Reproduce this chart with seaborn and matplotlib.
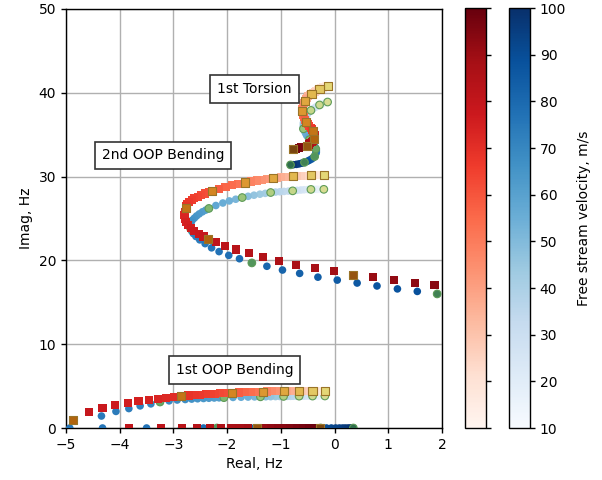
import numpy as np
import pandas as pd
import matplotlib
matplotlib.use("Agg")
import matplotlib.pyplot as plt
import seaborn as sns
from matplotlib.colors import Normalize, LinearSegmentedColormap
from matplotlib.cm import ScalarMappable

# ---------------- data ----------------
# Method A (circles, Blues) and method B (squares, Reds); v = free stream velocity, m/s
a1_v = [10, 12, 14, 16, 18, 20, 22, 24, 26, 28, 30, 32, 34, 36, 38, 40, 42, 44, 46, 48, 50, 52, 54, 56, 58, 60,
        61, 62, 63, 64, 65, 66, 67, 68, 69, 70, 71, 72, 73, 74, 75]
a1_re = [-0.18, -0.22, -0.27, -0.31, -0.36, -0.41, -0.46, -0.51, -0.56, -0.61, -0.66, -0.71, -0.77, -0.82, -0.88,
         -0.95, -1.02, -1.10, -1.19, -1.28, -1.38, -1.49, -1.61, -1.74, -1.89, -2.06,
         -2.15, -2.24, -2.34, -2.44, -2.55, -2.66, -2.78, -2.93, -3.08, -3.25, -3.42, -3.62, -3.83, -4.07, -4.34]
a1_im = [3.82, 3.82, 3.82, 3.82, 3.82, 3.81, 3.81, 3.81, 3.80, 3.80, 3.80, 3.79, 3.79, 3.78, 3.78, 3.77,
         3.76, 3.75, 3.74, 3.73, 3.72, 3.71, 3.69, 3.67, 3.65, 3.62,
         3.60, 3.58, 3.55, 3.52, 3.49, 3.45, 3.40, 3.34, 3.24, 3.10, 2.88, 2.64, 2.32, 1.98, 1.43]

b1_v = [10, 12, 14, 16, 18, 20, 22, 24, 26, 28, 30, 32, 34, 36, 38, 40, 42, 44, 46, 48, 50, 52, 54, 56, 58, 60,
        61, 62, 63, 64, 65, 66, 67, 68, 69, 70, 71, 72, 73, 74, 75, 76, 77, 78, 79, 80]
b1_re = [-0.18, -0.22, -0.27, -0.31, -0.36, -0.41, -0.46, -0.51, -0.56, -0.61, -0.66, -0.71, -0.77, -0.82, -0.88,
         -0.94, -1.01, -1.09, -1.17, -1.25, -1.34, -1.44, -1.55, -1.66, -1.78, -1.91,
         -1.98, -2.06, -2.14, -2.22, -2.31, -2.40, -2.50, -2.60, -2.72, -2.86, -2.99, -3.13, -3.29, -3.46, -3.65,
         -3.85, -4.08, -4.32, -4.58, -4.875]
b1_im = [4.46, 4.46, 4.46, 4.46, 4.46, 4.46, 4.46, 4.45, 4.45, 4.45, 4.45, 4.45, 4.45, 4.44, 4.44, 4.44,
         4.43, 4.41, 4.39, 4.36, 4.33, 4.31, 4.29, 4.26, 4.24, 4.21,
         4.19, 4.16, 4.13, 4.10, 4.07, 4.03, 3.99, 3.94, 3.88, 3.82, 3.72, 3.62, 3.50, 3.34, 3.18,
         2.98, 2.70, 2.35, 1.87, 0.95]

a2_v = [10, 12, 14, 16, 18, 20, 22, 24, 26, 28, 30, 32, 34, 36, 38, 40, 42, 44, 46, 48, 50, 52, 54, 56, 58, 60,
        61, 62, 63, 64, 65, 66, 67, 68, 69, 70, 71, 72, 73, 74, 75, 76, 77, 78, 79, 80,
        81, 82, 83, 84, 85, 86, 87, 88, 89, 90]
a2_re = [-0.20, -0.25, -0.30, -0.34, -0.39, -0.44, -0.50, -0.57, -0.63, -0.70, -0.78, -0.86, -0.94, -1.02, -1.10,
         -1.19, -1.29, -1.39, -1.50, -1.61, -1.72, -1.84, -1.96, -2.08, -2.21, -2.34,
         -2.40, -2.46, -2.52, -2.57, -2.61, -2.65, -2.67, -2.69, -2.69, -2.68,
         -2.66, -2.63, -2.58, -2.51, -2.41, -2.29, -2.15, -1.97, -1.77, -1.54,
         -1.26, -0.97, -0.65, -0.31, 0.05, 0.42, 0.79, 1.17, 1.54, 1.91]
a2_im = [28.48, 28.48, 28.48, 28.48, 28.48, 28.47, 28.45, 28.43, 28.40, 28.36, 28.30, 28.27, 28.23, 28.19, 28.15,
         28.10, 28.00, 27.90, 27.78, 27.65, 27.50, 27.30, 27.10, 26.85, 26.55, 26.20,
         26.00, 25.80, 25.55, 25.30, 25.05, 24.80, 24.55, 24.30, 24.05, 23.80,
         23.50, 23.20, 22.85, 22.45, 22.00, 21.50, 21.05, 20.60, 20.20, 19.70,
         19.30, 18.85, 18.45, 18.00, 17.65, 17.30, 16.95, 16.60, 16.30, 16.00]

b2_v = [10, 12, 14, 16, 18, 20, 22, 24, 26, 28, 30, 32, 34, 36, 38, 40, 42, 44, 46, 48, 50, 52, 54, 56, 58, 60,
        61, 62, 63, 64, 65, 66, 67, 68, 69, 70, 71, 72, 73, 74, 75, 76, 77, 78, 79, 80,
        81, 82, 83, 84, 85, 86, 87, 88, 89, 90, 91, 92, 93, 94]
b2_re = [-0.20, -0.25, -0.30, -0.34, -0.39, -0.44, -0.50, -0.56, -0.63, -0.70, -0.77, -0.84, -0.92, -0.99, -1.07,
         -1.15, -1.25, -1.35, -1.45, -1.56, -1.67, -1.79, -1.91, -2.03, -2.15, -2.28,
         -2.34, -2.41, -2.48, -2.55, -2.61, -2.66, -2.71, -2.74, -2.76, -2.77,
         -2.79, -2.80, -2.79, -2.77, -2.73, -2.68, -2.61, -2.52, -2.44, -2.36,
         -2.21, -2.04, -1.83, -1.60, -1.33, -1.04, -0.72, -0.37, -0.01, 0.35, 0.72, 1.10, 1.49, 1.86]
b2_im = [30.15, 30.15, 30.15, 30.15, 30.15, 30.15, 30.12, 30.10, 30.08, 30.05, 30.03, 30.00, 29.96, 29.92, 29.86,
         29.80, 29.72, 29.63, 29.53, 29.42, 29.30, 29.14, 28.96, 28.76, 28.54, 28.30,
         28.15, 27.98, 27.80, 27.60, 27.40, 27.18, 26.95, 26.70, 26.45, 26.20,
         25.80, 25.40, 25.00, 24.60, 24.25, 23.90, 23.50, 23.15, 22.85, 22.60,
         22.20, 21.70, 21.30, 20.85, 20.40, 19.95, 19.50, 19.10, 18.70, 18.30, 18.00, 17.65, 17.35, 17.06]

a3_v = [10, 12, 14, 16, 18, 20, 22, 24, 26, 28, 30, 32, 34, 36, 38, 40, 42, 44, 46, 48, 50, 52, 54, 56, 58,
        60, 62, 64, 66, 68, 70, 72, 74, 76, 78, 80, 82, 84, 86, 88, 90, 92, 94, 96, 98, 100]
a3_re = [-0.13, -0.16, -0.19, -0.22, -0.25, -0.28, -0.31, -0.34, -0.37, -0.41, -0.44, -0.47, -0.50, -0.52, -0.54,
         -0.56, -0.57, -0.58, -0.58, -0.58, -0.58, -0.56, -0.54, -0.52, -0.49, -0.47, -0.44, -0.41, -0.38, -0.36,
         -0.35, -0.34, -0.34, -0.35, -0.36, -0.37, -0.40, -0.43, -0.47, -0.51, -0.56, -0.61, -0.66, -0.71, -0.77,
         -0.82]
a3_im = [38.90, 38.85, 38.78, 38.70, 38.63, 38.55, 38.45, 38.34, 38.22, 38.07, 37.90, 37.72, 37.52, 37.32, 37.11,
         36.90, 36.66, 36.42, 36.18, 35.94, 35.70, 35.44, 35.18, 34.92, 34.66, 34.40, 34.16, 33.93, 33.70, 33.50,
         33.30, 33.10, 32.92, 32.74, 32.57, 32.40, 32.24, 32.09, 31.95, 31.82, 31.70, 31.60, 31.52, 31.46, 31.42,
         31.40]

b3_v = [10, 12, 14, 16, 18, 20, 22, 24, 26, 28, 30, 32, 34, 36, 38, 40, 42, 44, 46, 48, 50, 52, 54, 56, 58,
        60, 62, 64, 66, 68, 70, 72, 74, 76, 78, 80, 82, 84, 86, 88, 90, 92, 94, 96, 98, 100]
b3_re = [-0.13, -0.16, -0.19, -0.22, -0.25, -0.28, -0.31, -0.34, -0.37, -0.40, -0.43, -0.46, -0.49, -0.51, -0.53,
         -0.55, -0.57, -0.58, -0.59, -0.60, -0.60, -0.59, -0.58, -0.57, -0.55, -0.53, -0.50, -0.47, -0.44, -0.42,
         -0.40, -0.38, -0.37, -0.37, -0.37, -0.38, -0.40, -0.42, -0.45, -0.48, -0.52, -0.57, -0.62, -0.67, -0.72,
         -0.77]
b3_im = [40.85, 40.80, 40.72, 40.63, 40.55, 40.45, 40.35, 40.25, 40.13, 40.02, 39.90, 39.75, 39.58, 39.40, 39.20,
         39.00, 38.78, 38.55, 38.32, 38.08, 37.85, 37.58, 37.32, 37.06, 36.80, 36.55, 36.30, 36.07, 35.84, 35.62,
         35.40, 35.20, 35.00, 34.82, 34.63, 34.45, 34.28, 34.12, 33.97, 33.83, 33.70, 33.58, 33.48, 33.40, 33.34,
         33.30]

# real-axis (overdamped) roots
a4_v = [76, 76, 77, 78, 79, 80, 81, 82, 83, 84, 85, 86, 87, 88, 89, 90, 91, 92, 93, 94, 95, 96, 97, 98, 99, 100]
a4_re = [-4.93, -4.32, -3.50, -2.85, -2.44, -2.19, -1.88, -1.73, -1.50, -1.28, -1.06, -0.86, -0.68, -0.52, -0.38,
         -0.26, -0.15, -0.06, 0.02, 0.09, 0.15, 0.20, 0.25, 0.29, 0.32, 0.35]
a4_im = [0.0, 0.0, 0.0, 0.0, 0.0, 0.0, 0.0, 0.0, 0.0, 0.0, 0.0, 0.0, 0.0, 0.0, 0.0, 0.0, 0.0, 0.0, 0.0, 0.0, 0.0,
         0.0, 0.0, 0.0, 0.0, 0.0]

b4_v = [81, 82, 83, 84, 85, 86, 87, 88, 89, 90, 91, 92, 93, 94, 95, 96, 97, 98, 99, 100]
b4_re = [-3.83, -3.23, -2.84, -2.56, -2.32, -2.11, -1.93, -1.77, -1.61, -1.45, -1.31, -1.18, -1.06, -0.94, -0.82,
         -0.70, -0.59, -0.48, -0.38, -0.27]
b4_im = [0.0, 0.0, 0.0, 0.0, 0.0, 0.0, 0.0, 0.0, 0.0, 0.0, 0.0, 0.0, 0.0, 0.0, 0.0, 0.0, 0.0, 0.0, 0.0, 0.0]

mode_labels = ["1st OOP Bending", "2nd OOP Bending", "1st Torsion"]
label_x = [-1.86, -3.19, -1.49]
label_y = [6.92, 32.52, 40.5]

v_ticks = [10, 20, 30, 40, 50, 60, 70, 80, 90, 100]
x_ticks = [-5, -4, -3, -2, -1, 0, 1, 2]
y_ticks = [0, 10, 20, 30, 40, 50]
highlight_step = 10

# ---------------- build tables ----------------
def mode_table(v, re, im):
    return pd.DataFrame({"v": v, "re": re, "im": im})

A = pd.concat([mode_table(a4_v, a4_re, a4_im), mode_table(a1_v, a1_re, a1_im),
               mode_table(a2_v, a2_re, a2_im), mode_table(a3_v, a3_re, a3_im)], ignore_index=True)
B = pd.concat([mode_table(b4_v, b4_re, b4_im), mode_table(b1_v, b1_re, b1_im),
               mode_table(b2_v, b2_re, b2_im), mode_table(b3_v, b3_re, b3_im)], ignore_index=True)
hA = A[A["v"] % highlight_step == 0]
hB = B[B["v"] % highlight_step == 0]

# ---------------- figure ----------------
plt.rcParams["font.family"] = ["DejaVu Sans"]
plt.rcParams["font.size"] = 10

W, H = 602, 480
fig = plt.figure(figsize=(W / 100, H / 100), dpi=100)
ax = fig.add_axes([66 / W, 52 / H, 376 / W, 419 / H])
cax_r = fig.add_axes([465 / W, 52 / H, 21 / W, 420 / H])
cax_b = fig.add_axes([509 / W, 52 / H, 21 / W, 420 / H])

norm = Normalize(10, 100)
hl_circ = LinearSegmentedColormap.from_list("hl_circ", ["#d8dc92", "#c2d588", "#8fbf74", "#579a5e", "#2e6d4c"])
hl_sq = LinearSegmentedColormap.from_list("hl_sq", ["#e4d776", "#e2b44a", "#dc8e28", "#b8680e", "#7a4510"])

sns.scatterplot(data=A, x="re", y="im", hue="v", palette="Blues", hue_norm=(10, 100), marker="o",
                s=30, linewidth=0, legend=False, ax=ax, zorder=3)
sns.scatterplot(data=hA, x="re", y="im", hue="v", palette=hl_circ, hue_norm=(10, 100), marker="o",
                s=30, edgecolor="#5f9c58", linewidth=0.8, legend=False, ax=ax, zorder=4)
sns.scatterplot(data=B, x="re", y="im", hue="v", palette="Reds", hue_norm=(10, 100), marker="s",
                s=34, linewidth=0, legend=False, ax=ax, zorder=5)
sns.scatterplot(data=hB, x="re", y="im", hue="v", palette=hl_sq, hue_norm=(10, 100), marker="s",
                s=34, edgecolor="#9a7428", linewidth=0.8, legend=False, ax=ax, zorder=6)

for txt, tx, ty in zip(mode_labels, label_x, label_y):
    ax.text(tx, ty, txt, ha="center", va="center", fontsize=10, zorder=8,
            bbox=dict(boxstyle="square,pad=0.5", fc="white", ec="#333333", lw=1.2))

ax.set_xlim(-5, 2)
ax.set_ylim(0, 50)
ax.set_xticks(x_ticks)
ax.set_yticks(y_ticks)
ax.grid(True, color="#b0b0b0", lw=1)
ax.set_axisbelow(True)
ax.set_xlabel("Real, Hz")
ax.set_ylabel("Imag, Hz")
for sp in ax.spines.values():
    sp.set_color("black")
    sp.set_linewidth(1.0)
ax.tick_params(direction="out", length=3.5, width=1, colors="black")

cb_r = fig.colorbar(ScalarMappable(norm=norm, cmap="Reds"), cax=cax_r)
cb_r.set_ticks(v_ticks)
cb_r.ax.tick_params(labelright=False, length=3.5, width=1)
cb_b = fig.colorbar(ScalarMappable(norm=norm, cmap="Blues"), cax=cax_b)
cb_b.set_ticks(v_ticks)
cb_b.ax.tick_params(length=3.5, width=1)
cb_b.set_label("Free stream velocity, m/s", labelpad=8)
for cb in (cb_r, cb_b):
    cb.outline.set_linewidth(1.0)
    cb.outline.set_edgecolor("black")

fig.savefig("out.png", dpi=100)
